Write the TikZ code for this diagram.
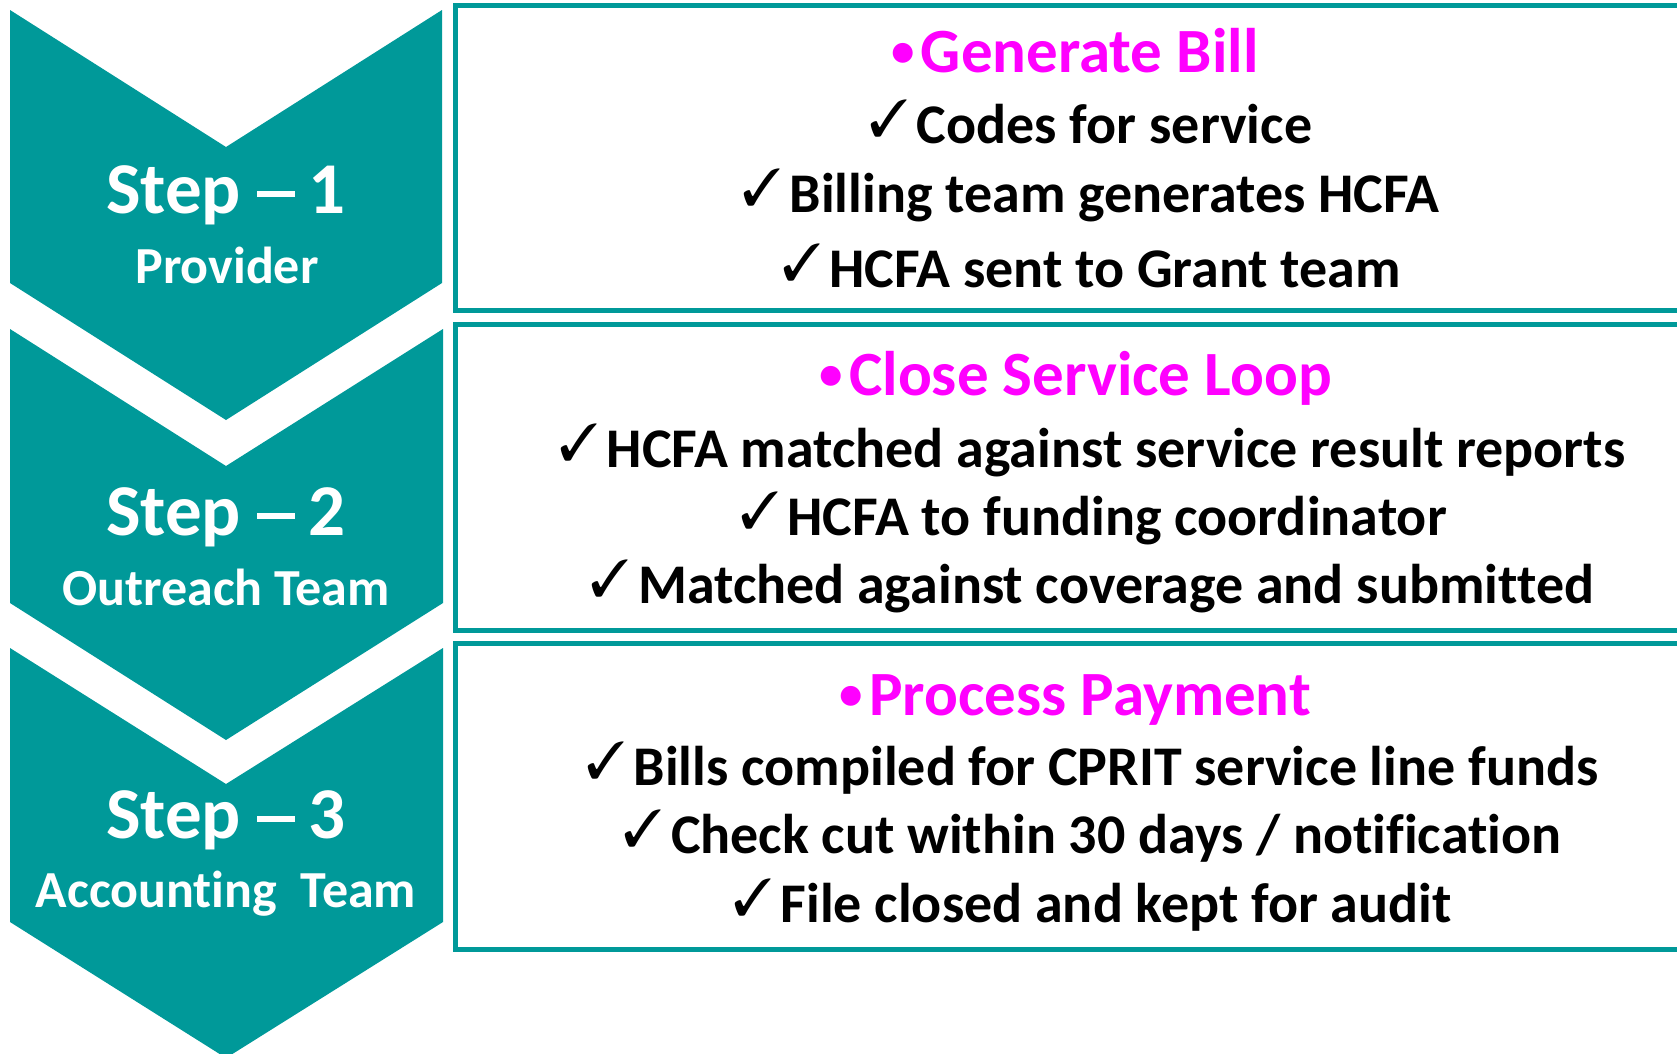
\documentclass[tikz,border=0pt]{standalone}
\usepackage{fontspec}
\usepackage{pifont}
\setmainfont[Ligatures=NoCommon]{Carlito}
\definecolor{tealc}{RGB}{0,153,153}
\definecolor{magc}{RGB}{255,0,255}
\newcommand\ck{\raisebox{7pt}{\fontsize{52}{52}\selectfont\ding{51}}\hspace{8pt}}
\newcommand\bul{\raisebox{6pt}{\fontsize{47}{47}\selectfont •}\hspace{6pt}}
\newcommand\sdash{\hspace{16pt}\rule[16pt]{38pt}{6pt}\hspace{14pt}}
\begin{document}
\begin{tikzpicture}[x=1pt,y=-1pt,
  chev/.style={fill=tealc,draw=none},
  pbox/.style={draw=tealc,line width=5pt},
  steptxt/.style={text=white,font=\fontsize{73}{73}\selectfont\bfseries,anchor=base,inner sep=0pt},
  subtxt/.style={text=white,font=\fontsize{52}{52}\selectfont\bfseries,anchor=base,inner sep=0pt},
  titletxt/.style={text=magc,font=\fontsize{63}{63}\selectfont\bfseries,anchor=base,inner sep=0pt},
  itemtxt/.style={text=black,font=\fontsize{56}{56}\selectfont\bfseries,anchor=base,inner sep=0pt}]
\useasboundingbox (0,0) rectangle (1677,1053);
\clip (0,0) rectangle (1677,1053);
% chevrons
\path[chev] (10,10) -- (226,147) -- (442,10) -- (442,283) -- (226,420) -- (10,283) -- cycle;
\path[chev] (10,329) -- (226,466) -- (443,329) -- (443,603) -- (226,740) -- (10,603) -- cycle;
\path[chev] (10,648) -- (226,784) -- (443,648) -- (443,922) -- (226,1058) -- (10,922) -- cycle;
% step labels
\node[steptxt] (s1) at (226,213) {Step\sdash 1};
\node[subtxt] (p1) at (227,283) {Provider};
\node[steptxt] (s2) at (226,535) {Step\sdash 2};
\node[subtxt] (p2) at (226,605) {Outreach Team};
\node[steptxt] (s3) at (226,838) {Step\sdash 3};
\node[subtxt] (p3) at (226,907) {Accounting\ \ Team};
% boxes
\draw[pbox] (455,5) rectangle (1700,310.5);
\draw[pbox] (455,324.5) rectangle (1700,630.5);
\draw[pbox] (455,643.5) rectangle (1700,949.5);
% box 1
\node[titletxt] (t1) at (1075,72) {\bul Generate Bill};
\node[itemtxt] (a1) at (1091,143) {\ck Codes for service};
\node[itemtxt] (a2) at (1091,212) {\ck Billing team generates HCFA};
\node[itemtxt] (a3) at (1091.5,287) {\ck HCFA sent to Grant team};
% box 2
\node[titletxt] (t2) at (1076,395) {\bul Close Service Loop};
\node[itemtxt] (b1) at (1092.5,467) {\ck HCFA matched against service result reports};
\node[itemtxt] (b2) at (1093.5,535) {\ck HCFA to funding coordinator};
\node[itemtxt] (b3) at (1092.5,603) {\ck Matched against coverage and submitted};
% box 3
\node[titletxt] (t3) at (1075.5,715) {\bul Process Payment};
\node[itemtxt] (c1) at (1092.5,785) {\ck Bills compiled for CPRIT service line funds};
\node[itemtxt] (c2) at (1092.5,853) {\ck Check cut within 30 days / notification};
\node[itemtxt] (c3) at (1092.5,922) {\ck File closed and kept for audit};
\end{tikzpicture}
\end{document}
